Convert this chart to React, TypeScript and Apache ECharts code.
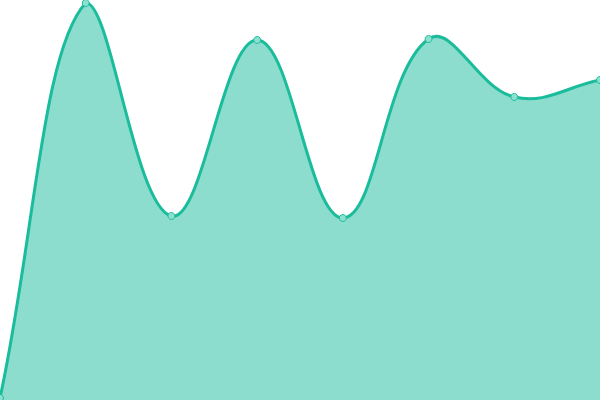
import React, { useEffect, useRef } from "react";
import * as echarts from "echarts";

const categories = ["1", "2", "3", "4", "5", "6", "7", "8"];
const values = [2, 397, 184, 360, 182, 361, 303, 320];
const yMin = 0;
const yMax = 400;
const tension = 0.4;

const LINE = "#1abc9c";
const FILL = "rgba(26,188,156,0.5)";

type Pt = [number, number];

function buildPaths(pts: Pt[], box: { x0: number; y0: number; x1: number; y1: number }, baseY: number) {
  const n = pts.length;
  const prevCp: Pt[] = [];
  const nextCp: Pt[] = [];
  const cap = (v: number, a: number, b: number) => Math.max(Math.min(v, b), a);
  for (let i = 0; i < n; i++) {
    const cur = pts[i];
    const prev = i > 0 ? pts[i - 1] : cur;
    const next = i < n - 1 ? pts[i + 1] : cur;
    const d01 = Math.hypot(cur[0] - prev[0], cur[1] - prev[1]);
    const d12 = Math.hypot(next[0] - cur[0], next[1] - cur[1]);
    let s01 = d01 / (d01 + d12);
    let s12 = d12 / (d01 + d12);
    if (isNaN(s01)) s01 = 0;
    if (isNaN(s12)) s12 = 0;
    const fa = tension * s01;
    const fb = tension * s12;
    const vx = next[0] - prev[0];
    const vy = next[1] - prev[1];
    prevCp.push([cap(cur[0] - fa * vx, box.x0, box.x1), cap(cur[1] - fa * vy, box.y0, box.y1)]);
    nextCp.push([cap(cur[0] + fb * vx, box.x0, box.x1), cap(cur[1] + fb * vy, box.y0, box.y1)]);
  }
  let d = `M${pts[0][0]},${pts[0][1]}`;
  for (let i = 1; i < n; i++) {
    const a = nextCp[i - 1];
    const b = prevCp[i];
    d += ` C${a[0]},${a[1]} ${b[0]},${b[1]} ${pts[i][0]},${pts[i][1]}`;
  }
  const area = `${d} L${pts[n - 1][0]},${baseY} L${pts[0][0]},${baseY} Z`;
  return { line: d, area };
}

export default function App() {
  const ref = useRef<HTMLDivElement>(null);
  useEffect(() => {
    if (!ref.current) return;
    const chart = echarts.init(ref.current, null, { renderer: "svg" });
    chart.setOption({
      animation: false,
      grid: { left: 0, right: 0, top: 0, bottom: 0 },
      xAxis: {
        type: "category",
        data: categories,
        boundaryGap: false,
        show: false,
      },
      yAxis: { type: "value", min: yMin, max: yMax, show: false },
      series: [
        {
          type: "custom",
          z: 2,
          clip: false,
          data: [[0, yMin]],
          renderItem: (params: any, api: any) => {
            const pts: Pt[] = values.map((v, i) => api.coord([i, v]) as Pt);
            const c = params.coordSys;
            const baseY = api.coord([0, yMin])[1];
            const { line, area } = buildPaths(
              pts,
              { x0: c.x, y0: c.y, x1: c.x + c.width, y1: c.y + c.height },
              baseY
            );
            return {
              type: "group",
              children: [
                { type: "path", shape: { pathData: area }, style: { fill: FILL, stroke: "none" } },
                {
                  type: "path",
                  shape: { pathData: line },
                  style: { fill: "none", stroke: LINE, lineWidth: 3 },
                },
              ],
            };
          },
        },
        {
          type: "line",
          z: 3,
          data: values,
          symbol: "circle",
          symbolSize: 7,
          lineStyle: { opacity: 0 },
          itemStyle: { color: "#8ce0cf", borderColor: LINE, borderWidth: 1 },
        },
      ],
    });
    return () => chart.dispose();
  }, []);
  return (
    <div
      ref={ref}
      style={{ position: "fixed", left: 0, top: 0, width: 600, height: 400 }}
    />
  );
}
